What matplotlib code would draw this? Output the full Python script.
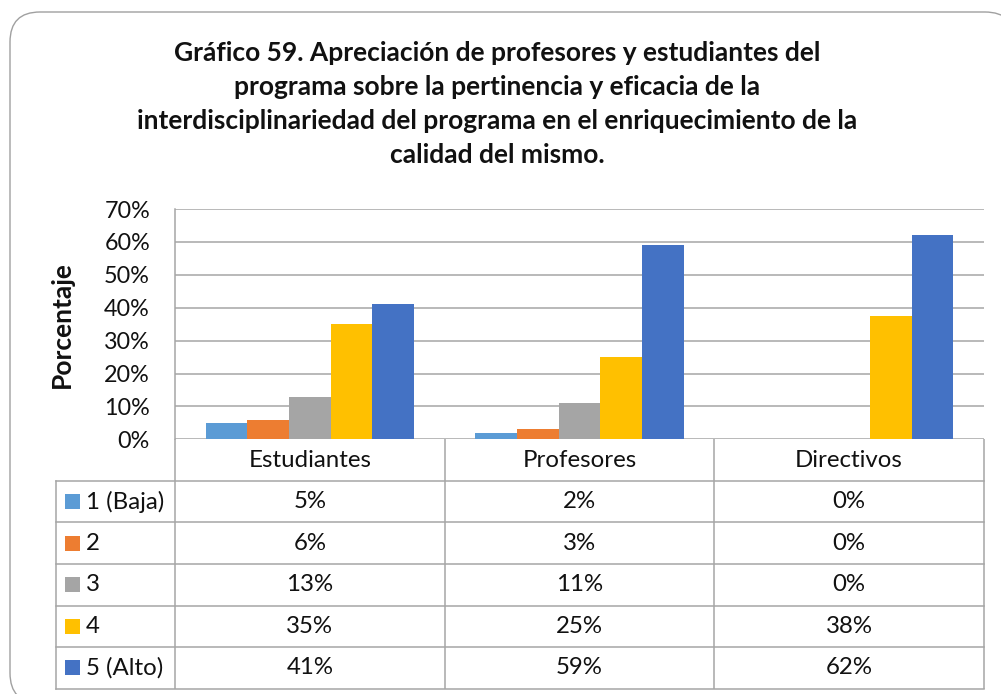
import matplotlib
matplotlib.use("Agg")
import matplotlib.pyplot as plt
from matplotlib.patches import FancyBboxPatch, Rectangle

# ---- data ----
categories = ["Estudiantes", "Profesores", "Directivos"]
series_names = ["1 (Baja)", "2", "3", "4", "5 (Alto)"]
s1 = [5, 2, 0]
s2 = [6, 3, 0]
s3 = [13, 11, 0]
s4 = [35, 25, 37.5]
s5 = [41, 59, 62]
series_values = [s1, s2, s3, s4, s5]
colors = ["#5B9BD5", "#ED7D31", "#A5A5A5", "#FFC000", "#4472C4"]
yticks = [0, 10, 20, 30, 40, 50, 60, 70]
title = ("Gráfico 59. Apreciación de profesores y estudiantes del\n"
         "programa sobre la pertinencia y eficacia de la\n"
         "interdisciplinariedad del programa en el enriquecimiento de la\n"
         "calidad del mismo.")
ylabel = "Porcentaje"

FONT = ["Lato", "DejaVu Sans"]
plt.rcParams["font.family"] = FONT

W, H = 1001, 694
fig = plt.figure(figsize=(W / 100, H / 100), dpi=100)
fig.patch.set_facecolor("white")

def fx(x):
    return x / W

def fy(y):
    return 1 - y / H

GRID = "#A6A6A6"
TXT = "#111111"
FS = 17.3

# background axes in pixel coordinates (frame + table)
bg = fig.add_axes([0, 0, 1, 1])
bg.set_xlim(0, W)
bg.set_ylim(H, 0)
bg.axis("off")

frame = FancyBboxPatch((10, 12), 1005, 691, boxstyle="round,pad=0,rounding_size=30",
                       fc="white", ec="#A0A0A0", lw=1.0, zorder=0)
bg.add_patch(frame)

# plot area
left, right, top, bottom = 175, 984, 209, 439.3
ax = fig.add_axes([fx(left), fy(bottom), fx(right) - fx(left), (bottom - top) / H])
ax.set_facecolor("none")
ax.set_xlim(0, len(categories))
ax.set_ylim(0, 70)
n = len(series_values)
bw = 0.772 / n
for i, (vals, c) in enumerate(zip(series_values, colors)):
    xs = [j + 0.5 + (i - (n - 1) / 2) * bw for j in range(len(categories))]
    ax.bar(xs, vals, width=bw, color=c, zorder=3, linewidth=0)
ax.set_yticks(yticks)
ax.set_yticklabels([f"{t}%" for t in yticks], fontsize=16.8, color=TXT)
ax.tick_params(axis="y", length=0, pad=18)
ax.set_xticks([])
ax.yaxis.grid(True, color=GRID, lw=1.1, zorder=0)
for s in ["top", "right", "bottom"]:
    ax.spines[s].set_visible(False)
ax.spines["left"].set_color(GRID)
ax.spines["left"].set_linewidth(1.1)

fig.text(fx(62), fy(325), ylabel, rotation=90, ha="center", va="center",
         fontsize=19, fontweight="bold", color=TXT)

fig.text(fx(497), fy(104), title, ha="center", va="center", fontsize=19,
         fontweight="bold", color=TXT, linespacing=1.49)

# data table
tbl_left = 55.7
row_h = (688.7 - bottom) / (n + 1)
row_edges = [bottom + k * row_h for k in range(n + 2)]
col_w = (right - left) / len(categories)
col_edges = [left + k * col_w for k in range(len(categories) + 1)]

lw = 1.1
for xe in col_edges:
    bg.plot([xe, xe], [bottom, row_edges[-1]], color=GRID, lw=lw, zorder=2,
            solid_capstyle="butt")
bg.plot([tbl_left, tbl_left], [row_edges[1], row_edges[-1]], color=GRID, lw=lw, zorder=2)
for ye in row_edges[1:]:
    bg.plot([tbl_left, right], [ye, ye], color=GRID, lw=lw, zorder=2)

for j, cat in enumerate(categories):
    bg.text((col_edges[j] + col_edges[j + 1]) / 2, (row_edges[0] + row_edges[1]) / 2,
            cat, ha="center", va="center", fontsize=FS, color=TXT)

for i, (name, vals, c) in enumerate(zip(series_names, series_values, colors)):
    yc = (row_edges[i + 1] + row_edges[i + 2]) / 2
    bg.add_patch(Rectangle((65, yc - 7.5), 15, 15, fc=c, ec="none", zorder=3))
    bg.text(86, yc, name, ha="left", va="center", fontsize=FS, color=TXT)
    for j, v in enumerate(vals):
        bg.text((col_edges[j] + col_edges[j + 1]) / 2, yc, f"{int(v + 0.5)}%",
                ha="center", va="center", fontsize=FS, color=TXT)

fig.savefig("out.png", dpi=100)
